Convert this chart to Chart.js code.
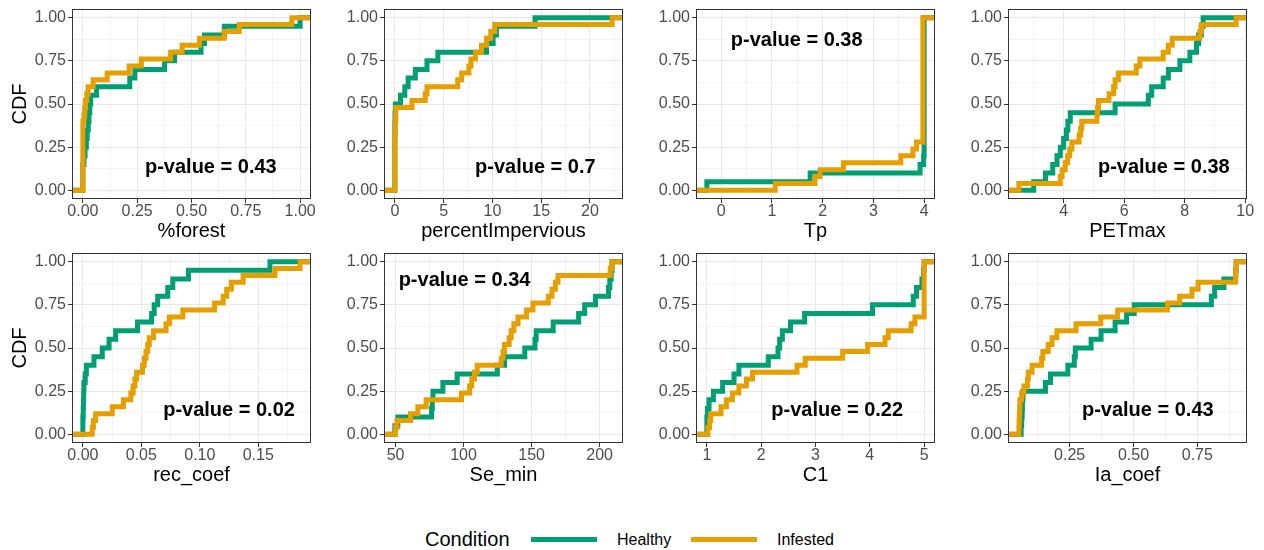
<!DOCTYPE html>
<html>
<head>
<meta charset="utf-8">
<script src="https://cdn.jsdelivr.net/npm/chart.js@4.4.1/dist/chart.umd.min.js"></script>
<style>
  html, body { margin: 0; padding: 0; background: #fff; }
  #wrap { position: relative; width: 1264px; height: 550px; overflow: hidden; font-family: "Liberation Sans", Arial, sans-serif; }
  #wrap canvas { position: absolute; }
  .leg { position: absolute; white-space: nowrap; color: #000; }
  .key { position: absolute; height: 5px; }
</style>
</head>
<body>
<div id="wrap">
  <div class="leg" style="left:425px; top:527px; font-size:20px; line-height:24px;">Condition</div>
  <div class="key" style="left:531px; top:537px; width:66px; background:#009E73;"></div>
  <div class="leg" style="left:617px; top:530px; font-size:16px; line-height:19px;">Healthy</div>
  <div class="key" style="left:691px; top:537px; width:66px; background:#E69F00;"></div>
  <div class="leg" style="left:777px; top:530px; font-size:16px; line-height:19px;">Infested</div>
</div>
<script>
// sorted sample values per variable (ECDF is built from these)
const forestHealthy = [0, 0, 0, 0.005, 0.01, 0.016, 0.02, 0.025, 0.028, 0.032, 0.036, 0.063, 0.216, 0.239, 0.376, 0.422, 0.544, 0.56, 0.651, 1.0];
const forestInfested = [0, 0, 0, 0, 0, 0, 0, 0, 0, 0, 0.005, 0.009, 0.012, 0.018, 0.024, 0.047, 0.112, 0.213, 0.269, 0.404, 0.457, 0.537, 0.651, 0.72, 0.962];

const imperviousHealthy = [0, 0, 0, 0, 0, 0, 0, 0, 0.02, 0.05, 0.58, 1.02, 1.36, 2.1, 3.29, 4.41, 9.39, 10.07, 10.41, 14.37];
const imperviousInfested = [0, 0, 0, 0, 0, 0, 0, 0, 0.05, 0.05, 0.1, 0.1, 1.76, 3.12, 3.29, 6.44, 6.85, 7.59, 7.8, 8.27, 8.88, 9.39, 9.83, 10.24, 22.27];

const tpHealthy = [-0.28, 1.755, 3.92, 3.99, 4, 4, 4, 4, 4, 4, 4, 4, 4, 4, 4, 4, 4, 4, 4, 4];
const tpInfested = [1.067, 1.85, 1.95, 2.41, 3.54, 3.78, 3.85, 3.975, 3.975, 3.975, 3.975, 3.975, 3.975, 3.975, 3.975, 3.975, 3.975, 3.975, 3.975, 3.975, 3.975, 3.975, 3.975, 3.975, 3.975];

const petHealthy = [3.01, 3.40, 3.64, 3.78, 3.89, 4.0, 4.09, 4.14, 4.22, 5.70, 6.80, 6.91, 7.29, 7.46, 7.84, 8.17, 8.39, 8.46, 8.55, 8.61];
const petInfested = [2.52, 3.89, 3.95, 4.05, 4.13, 4.2, 4.27, 4.51, 4.56, 4.6, 5.1, 5.12, 5.15, 5.5, 5.65, 5.7, 5.81, 6.4, 6.52, 7.29, 7.46, 7.59, 8.5, 8.55, 9.70];

const recHealthy = [0, 0, 0.0003, 0.0005, 0.0007, 0.0009, 0.002, 0.003, 0.0095, 0.0166, 0.0224, 0.028, 0.0467, 0.0588, 0.061, 0.064, 0.0726, 0.0769, 0.0903, 0.16];
const recInfested = [0.008, 0.009, 0.0109, 0.0252, 0.0347, 0.041, 0.043, 0.0445, 0.046, 0.051, 0.0525, 0.054, 0.0555, 0.0568, 0.0605, 0.0711, 0.074, 0.0855, 0.1127, 0.12, 0.123, 0.127, 0.137, 0.1643, 0.1858];

const seHealthy = [49.5, 51.7, 76.5, 77, 77.5, 84.8, 95.3, 124.8, 130.1, 145, 152.5, 153.4, 165.9, 184.6, 189, 197, 206.5, 207.5, 208.5, 209.2];
const seInfested = [50, 51, 61, 66.4, 72.5, 98.5, 104.5, 106, 108, 110, 127.7, 129, 130, 133.5, 135, 137, 140, 146.3, 151, 162.3, 165, 167.5, 169.4, 207.8, 209];

const c1Healthy = [1.0, 1.0, 1.01, 1.04, 1.12, 1.29, 1.5, 1.59, 2.13, 2.31, 2.34, 2.39, 2.54, 2.80, 4.05, 4.80, 4.86, 4.96, 4.99, 5.0];
const c1Infested = [1.02, 1.05, 1.07, 1.26, 1.36, 1.47, 1.59, 1.73, 1.84, 2.66, 2.81, 3.50, 3.96, 4.28, 4.34, 4.76, 4.83, 5, 5, 5, 5, 5, 5, 5, 5];

const iaHealthy = [0.06, 0.062, 0.064, 0.065, 0.067, 0.155, 0.175, 0.243, 0.268, 0.272, 0.334, 0.373, 0.428, 0.473, 0.503, 0.805, 0.818, 0.854, 0.90, 0.902];
const iaInfested = [0.051, 0.052, 0.053, 0.054, 0.055, 0.062, 0.071, 0.085, 0.088, 0.103, 0.14, 0.145, 0.166, 0.181, 0.2, 0.275, 0.372, 0.438, 0.633, 0.681, 0.729, 0.753, 0.90, 0.901, 0.902];

// tick breaks
const forestTicks = [0, 0.25, 0.5, 0.75, 1];
const imperviousTicks = [0, 5, 10, 15, 20];
const tpTicks = [0, 1, 2, 3, 4];
const petTicks = [4, 6, 8, 10];
const recTicks = [0, 0.05, 0.10, 0.15];
const seTicks = [50, 100, 150, 200];
const c1Ticks = [1, 2, 3, 4, 5];
const iaTicks = [0.25, 0.5, 0.75];
const cdfTicks = [0, 0.25, 0.5, 0.75, 1];

const variables = ['%forest', 'percentImpervious', 'Tp', 'PETmax', 'rec_coef', 'Se_min', 'C1', 'Ia_coef'];
const pValues = ['0.43', '0.7', '0.38', '0.38', '0.02', '0.34', '0.22', '0.43'];

const GREEN = '#009E73', ORANGE = '#E69F00';
const FONT = '"Liberation Sans", Arial, sans-serif';
const PLOT_LEFT = [72, 384, 696, 1008], PLOT_TOP = [9, 253];
const PLOT_W = 239, PLOT_H = 190;
const AX_W = 80, AX_H = 50, PAD_T = 20, PAD_R = 24;

// where the p-value text sits, in data units
const panels = [
  { h: forestHealthy, i: forestInfested, ticks: forestTicks, dig: 2, at: [0.589, 0.13] },
  { h: imperviousHealthy, i: imperviousInfested, ticks: imperviousTicks, dig: 0, at: [14.4, 0.13] },
  { h: tpHealthy, i: tpInfested, ticks: tpTicks, dig: 0, at: [1.49, 0.87] },
  { h: petHealthy, i: petInfested, ticks: petTicks, dig: 0, at: [7.31, 0.13] },
  { h: recHealthy, i: recInfested, ticks: recTicks, dig: 2, at: [0.125, 0.14] },
  { h: seHealthy, i: seInfested, ticks: seTicks, dig: 0, at: [100.7, 0.89] },
  { h: c1Healthy, i: c1Infested, ticks: c1Ticks, dig: 0, at: [3.40, 0.14] },
  { h: iaHealthy, i: iaInfested, ticks: iaTicks, dig: 2, at: [0.556, 0.14] }
];

function ecdf(values, lo, hi) {
  const v = values.slice().sort((a, b) => a - b);
  const pts = [{ x: lo, y: 0 }];
  v.forEach((x, k) => pts.push({ x: x, y: (k + 1) / v.length }));
  pts.push({ x: hi, y: 1 });
  return pts;
}

function expand(lo, hi) {
  const d = (hi - lo) * 0.05;
  return [lo - d, hi + d];
}

// major breaks plus ggplot-style minor breaks halfway between
function withMinors(majors, lo, hi) {
  const step = majors[1] - majors[0];
  const out = majors.map(v => ({ value: v }));
  for (let k = -1; k < majors.length; k++) {
    const m = (k < 0 ? majors[0] - step : majors[k]) + step / 2;
    if (m > lo && m < hi) out.push({ value: m, minor: true });
  }
  return out.sort((a, b) => a.value - b.value);
}

const gridOpts = {
  color: c => (c.tick && c.tick.minor ? '#F4F4F4' : '#E8E8E8'),
  lineWidth: 1,
  drawTicks: true,
  tickLength: 4,
  tickWidth: 1,
  tickColor: c => (c.tick && c.tick.minor ? 'rgba(0,0,0,0)' : '#333333')
};

const panelBox = {
  id: 'panelBox',
  afterDatasetsDraw(chart) {
    const a = chart.chartArea, ctx = chart.ctx;
    ctx.save();
    ctx.strokeStyle = '#333333';
    ctx.lineWidth = 1;
    ctx.strokeRect(a.left + 0.5, a.top + 0.5, a.right - a.left - 1, a.bottom - a.top - 1);
    ctx.restore();
  }
};

const pLabel = {
  id: 'pLabel',
  afterDatasetsDraw(chart, args, opts) {
    const { x, y } = chart.scales;
    const ctx = chart.ctx;
    ctx.save();
    ctx.font = 'bold 20px ' + FONT;
    ctx.fillStyle = '#000';
    ctx.textAlign = 'center';
    ctx.textBaseline = 'middle';
    ctx.fillText('p-value = ' + opts.text, x.getPixelForValue(opts.at[0]), y.getPixelForValue(opts.at[1]));
    ctx.restore();
  }
};

const wrap = document.getElementById('wrap');

panels.forEach((p, idx) => {
  const col = idx % 4, row = Math.floor(idx / 4);
  const all = p.h.concat(p.i);
  const xr = expand(Math.min(...all), Math.max(...all));
  const yr = expand(0, 1);

  const cv = document.createElement('canvas');
  cv.width = AX_W + PLOT_W + PAD_R;
  cv.height = PAD_T + PLOT_H + AX_H;
  cv.style.width = cv.width + 'px';
  cv.style.height = cv.height + 'px';
  cv.style.left = (PLOT_LEFT[col] - AX_W) + 'px';
  cv.style.top = (PLOT_TOP[row] - PAD_T) + 'px';
  wrap.appendChild(cv);

  new Chart(cv, {
    type: 'line',
    data: {
      datasets: [
        { label: 'Healthy', data: ecdf(p.h, xr[0], xr[1]), borderColor: GREEN, order: 2,
          borderWidth: 5, stepped: 'before', pointRadius: 0, fill: false },
        { label: 'Infested', data: ecdf(p.i, xr[0], xr[1]), borderColor: ORANGE, order: 1,
          borderWidth: 5, stepped: 'before', pointRadius: 0, fill: false }
      ]
    },
    options: {
      responsive: false,
      animation: false,
      events: [],
      layout: { padding: { left: 0, top: PAD_T, right: PAD_R, bottom: 0 } },
      scales: {
        x: {
          type: 'linear', min: xr[0], max: xr[1],
          afterBuildTicks: ax => { ax.ticks = withMinors(p.ticks, xr[0], xr[1]); },
          afterFit: ax => { ax.height = AX_H; },
          grid: gridOpts,
          border: { display: false },
          ticks: {
            autoSkip: false, maxRotation: 0, padding: 1, color: '#4D4D4D',
            font: { family: FONT, size: 16, lineHeight: 1 },
            callback: (v, k, t) => (t[k].minor ? '' : v.toFixed(p.dig))
          },
          title: {
            display: true, text: variables[idx], color: '#000',
            font: { family: FONT, size: 20, lineHeight: 1.2 },
            padding: { top: 0, bottom: 6 }
          }
        },
        y: {
          type: 'linear', min: yr[0], max: yr[1],
          afterBuildTicks: ax => { ax.ticks = withMinors(cdfTicks, yr[0], yr[1]); },
          afterFit: ax => { ax.width = AX_W; },
          grid: gridOpts,
          border: { display: false },
          ticks: {
            padding: 2, color: '#4D4D4D',
            font: { family: FONT, size: 16, lineHeight: 1 },
            callback: (v, k, t) => (t[k].minor ? '' : v.toFixed(2))
          },
          title: {
            display: col === 0, text: 'CDF', color: '#000',
            font: { family: FONT, size: 20, lineHeight: 1.2 },
            padding: { top: 16.5, bottom: 0 }
          }
        }
      },
      plugins: {
        legend: { display: false },
        tooltip: { enabled: false },
        pLabel: { text: pValues[idx], at: p.at }
      }
    },
    plugins: [panelBox, pLabel]
  });
});
</script>
</body>
</html>
